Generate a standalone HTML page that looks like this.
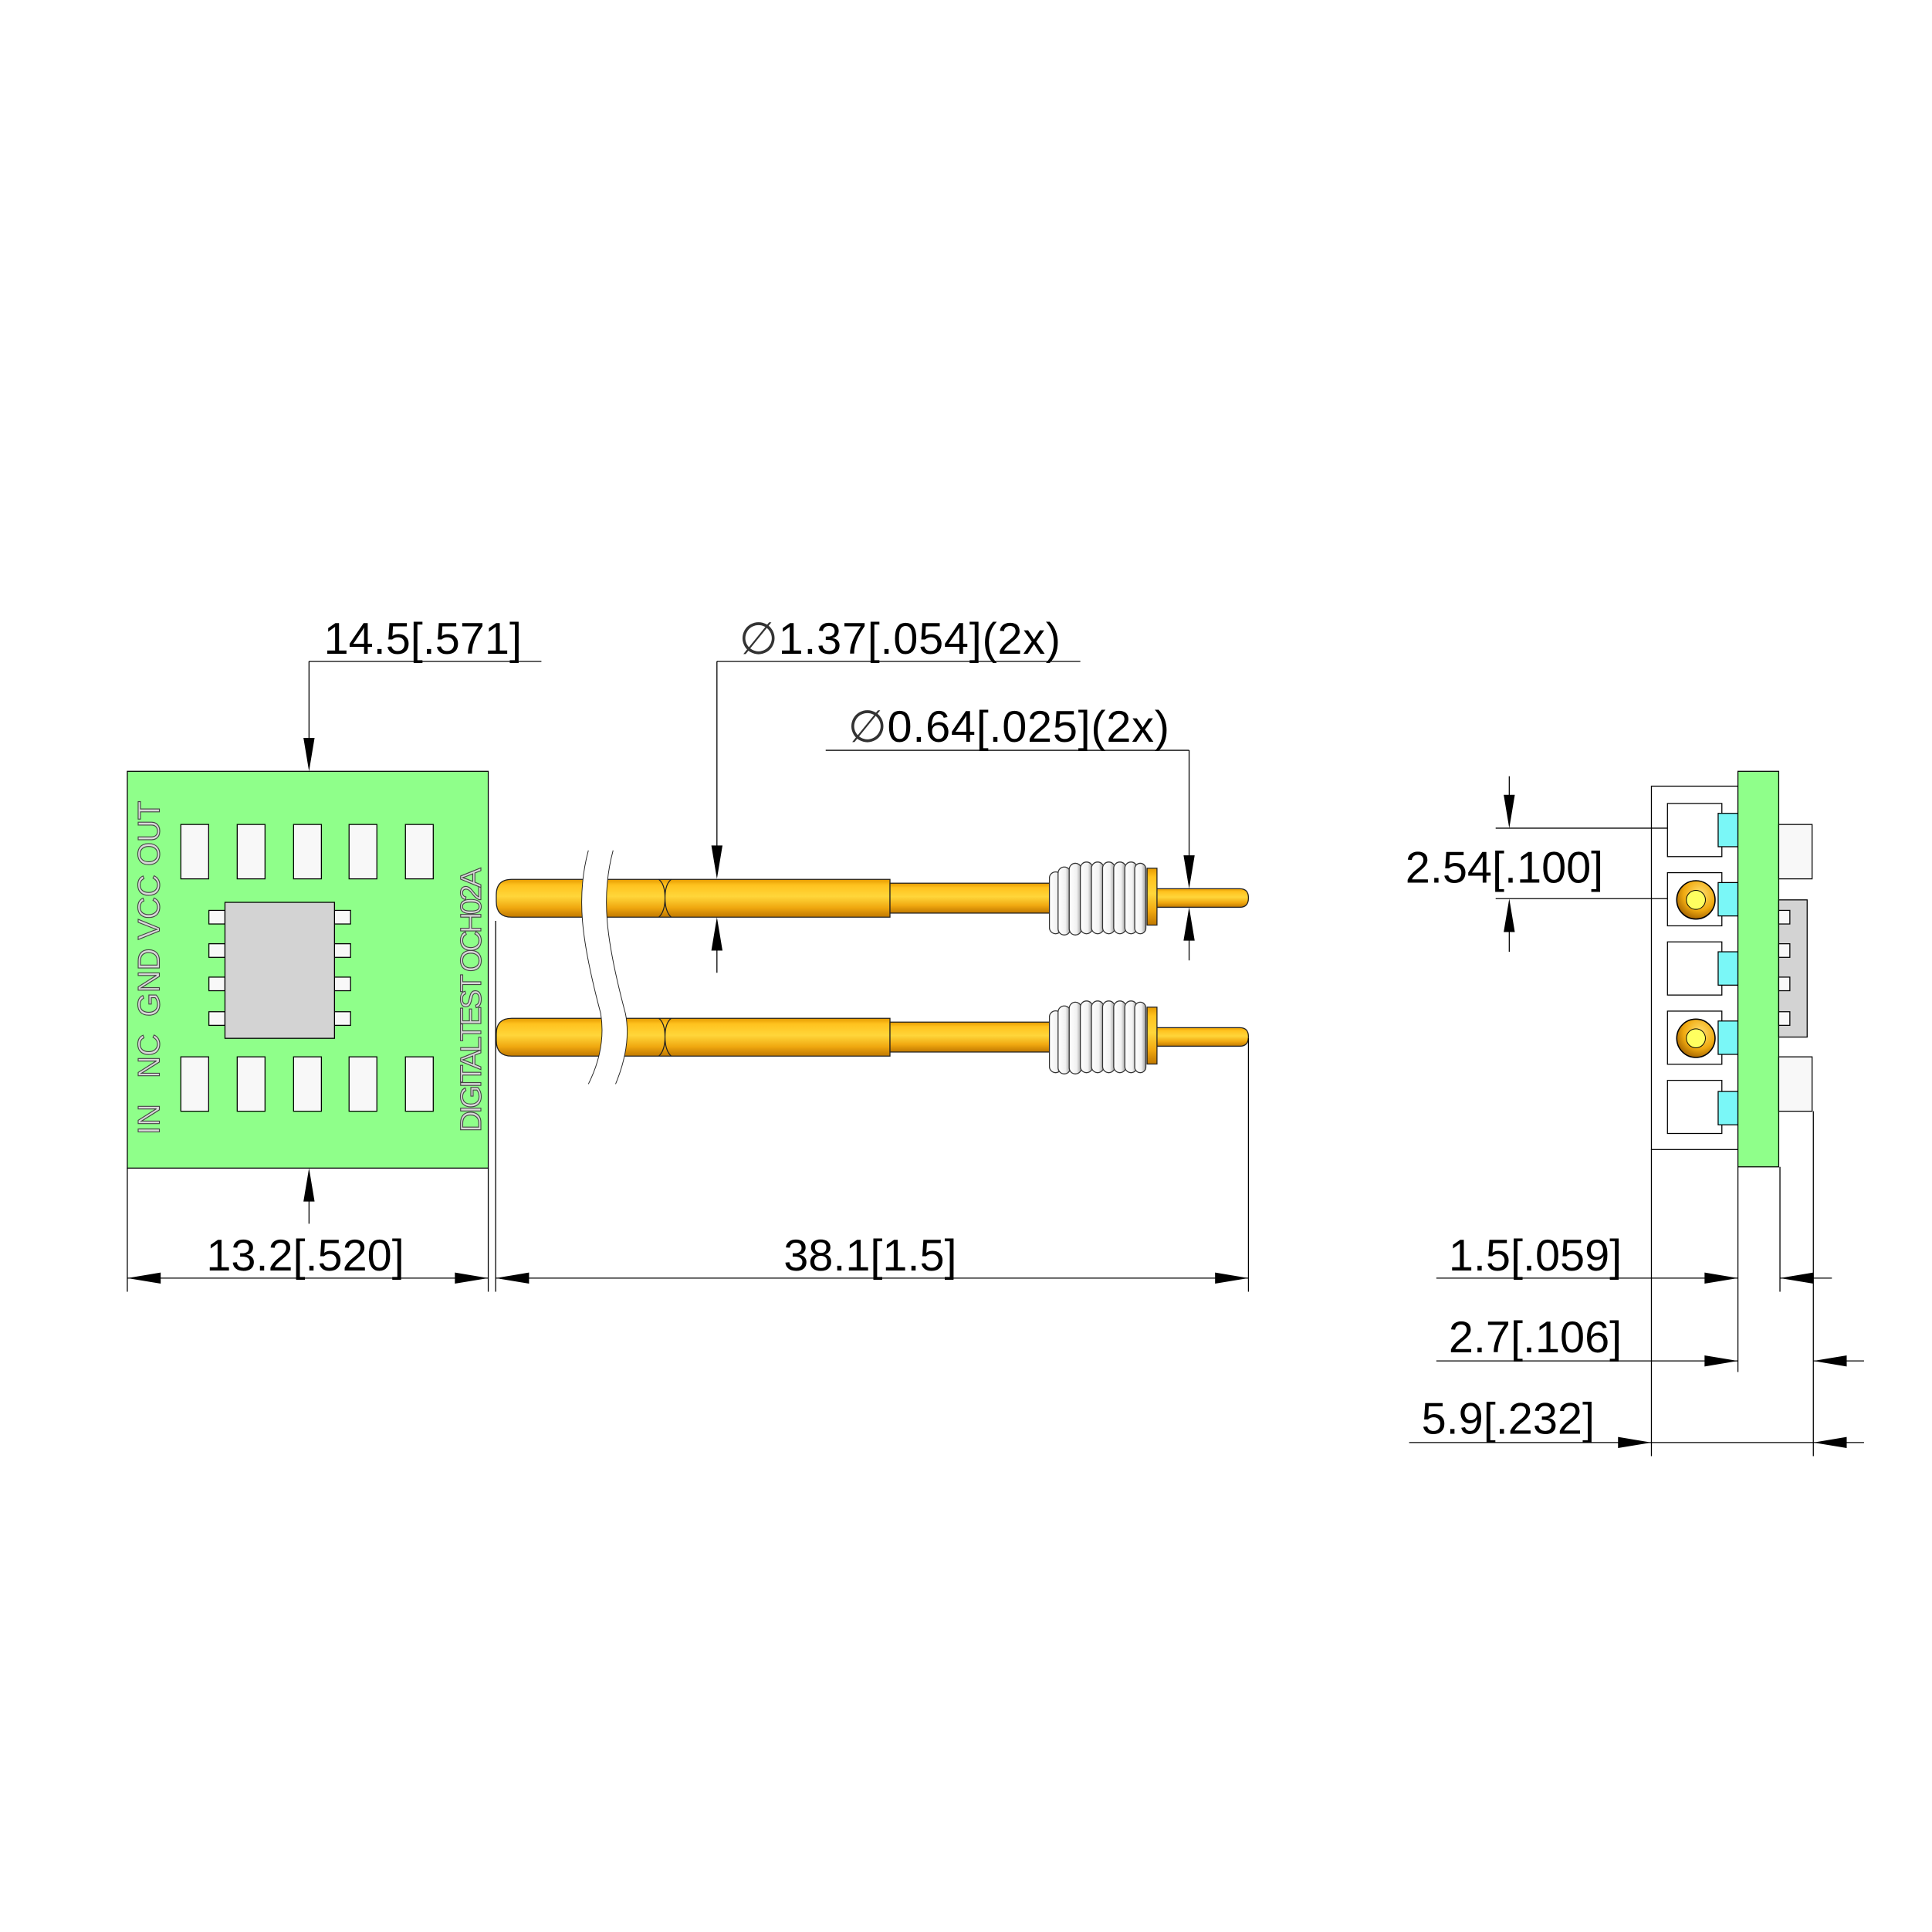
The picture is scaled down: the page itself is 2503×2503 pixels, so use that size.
<!DOCTYPE html>
<html><head><meta charset="utf-8"><style>
html,body{margin:0;padding:0;background:#fff;}
svg{display:block;}
text{font-family:"Liberation Sans","DejaVu Sans",sans-serif;}
</style></head><body>
<svg width="2503" height="2503" viewBox="0 0 1563 1563" xmlns="http://www.w3.org/2000/svg">
<defs>
<linearGradient id="gold" x1="0" y1="0" x2="0" y2="1">
<stop offset="0" stop-color="#e59a00"/><stop offset="0.15" stop-color="#ffc21e"/><stop offset="0.45" stop-color="#ffd63a"/><stop offset="0.75" stop-color="#f0a810"/><stop offset="1" stop-color="#c07800"/>
</linearGradient>
<linearGradient id="coil" x1="0" y1="0" x2="1" y2="0">
<stop offset="0" stop-color="#ffffff"/><stop offset="0.6" stop-color="#f2f2f2"/><stop offset="1" stop-color="#9a9a9a"/>
</linearGradient>
<radialGradient id="ball" cx="0.6" cy="0.35" r="0.7">
<stop offset="0" stop-color="#ffe070"/><stop offset="0.6" stop-color="#f0aa10"/><stop offset="1" stop-color="#a06000"/>
</radialGradient>
<g id="ah"><polygon points="0,0 -27,-4.5 -27,4.5" fill="#000"/></g>
<g id="probe">
  <path d="M414,0 H720 V30.6 H414 Q401.5,30.6 401.5,18 V12.6 Q401.5,0 414,0 Z" fill="url(#gold)" stroke="#222" stroke-width="0.8"/>
  <path d="M533,0 q5,4 5,15 q0,11 -5,15.6 M543,0 q-5,4 -5,15 q0,11 5,15.6" fill="none" stroke="#222" stroke-width="0.8"/>
  <rect x="720" y="3.1" width="134" height="24.2" fill="url(#gold)" stroke="#222" stroke-width="0.8"/>
  <path d="M934,7.6 H1003 Q1010,7.6 1010,15 Q1010,22.6 1003,22.6 H934 Z" fill="url(#gold)" stroke="#222" stroke-width="0.8"/>
  <rect x="928" y="-9" width="8" height="46" fill="url(#gold)" stroke="#222" stroke-width="0.8"/>
  <g stroke="#333" stroke-width="0.8" fill="url(#coil)">
    <rect x="849" y="-6" width="10" height="50" rx="5"/>
    <rect x="856" y="-10" width="10" height="55" rx="5"/>
    <rect x="865" y="-13" width="10" height="58" rx="5"/>
    <rect x="874" y="-14" width="10" height="58" rx="5"/>
    <rect x="883" y="-14" width="10" height="58" rx="5"/>
    <rect x="892" y="-14" width="10" height="58" rx="5"/>
    <rect x="901" y="-14" width="10" height="58" rx="5"/>
    <rect x="910" y="-14" width="10" height="58" rx="5"/>
    <rect x="918" y="-13" width="9" height="57" rx="4.5"/>
  </g>
</g>
</defs>

<!-- PCB top view -->
<rect x="103" y="624" width="292" height="321" fill="#8fff8a" stroke="#000" stroke-width="0.8"/>
<g fill="#f8f8f8" stroke="#000" stroke-width="0.8">
  <rect x="146.3" y="667" width="22.5" height="44"/><rect x="191.9" y="667" width="22.5" height="44"/><rect x="237.5" y="667" width="22.5" height="44"/><rect x="282.4" y="667" width="22.5" height="44"/><rect x="328" y="667" width="22.5" height="44"/>
  <rect x="146.3" y="855" width="22.5" height="44"/><rect x="191.9" y="855" width="22.5" height="44"/><rect x="237.5" y="855" width="22.5" height="44"/><rect x="282.4" y="855" width="22.5" height="44"/><rect x="328" y="855" width="22.5" height="44"/>
  <rect x="169" y="736.5" width="13" height="11"/><rect x="169" y="763.5" width="13" height="11"/><rect x="169" y="790.5" width="13" height="11"/><rect x="169" y="818.5" width="13" height="11"/>
  <rect x="270.6" y="736.5" width="13" height="11"/><rect x="270.6" y="763.5" width="13" height="11"/><rect x="270.6" y="790.5" width="13" height="11"/><rect x="270.6" y="818.5" width="13" height="11"/>
</g>
<rect x="182" y="730" width="88.6" height="110" fill="#d3d3d3" stroke="#000" stroke-width="0.8"/>
<text transform="translate(129,918) rotate(-90)" font-size="25" fill="#d8d8d8" stroke="#444" stroke-width="0.7" textLength="270" xml:space="preserve">IN   NC  GND VCC OUT</text>
<text transform="translate(389,916) rotate(-90)" font-size="24" fill="#d8d8d8" stroke="#444" stroke-width="0.7" textLength="214">DIGITALTEST OCH02A</text>

<!-- probes -->
<use href="#probe" transform="translate(0,711.4)"/>
<use href="#probe" transform="translate(0,823.8)"/>
<!-- break -->
<path d="M476,688 C466,725 470,760 486,820 C490,845 482,865 476,877 L498,877 C505,860 510,840 506,820 C490,760 486,725 496,688 Z" fill="#fff"/>
<path d="M476,688 C466,725 470,760 486,820 C490,845 482,865 476,877 M496,688 C486,725 490,760 506,820 C510,840 505,860 498,877" fill="none" stroke="#222" stroke-width="0.6"/>

<!-- side view -->
<rect x="1336" y="636" width="70" height="294" fill="#fff" stroke="#000" stroke-width="0.8"/>
<g fill="#fff" stroke="#000" stroke-width="0.8">
  <rect x="1349" y="650" width="44" height="43"/><rect x="1349" y="706" width="44" height="43"/><rect x="1349" y="762" width="44" height="43"/><rect x="1349" y="818" width="44" height="43"/><rect x="1349" y="874" width="44" height="43"/>
</g>
<g fill="url(#ball)" stroke="#000" stroke-width="1">
  <circle cx="1372" cy="728" r="15.5"/><circle cx="1372" cy="840" r="15.5"/>
</g>
<g fill="#ffff60" stroke="#000" stroke-width="0.6"><circle cx="1372" cy="728" r="7.7"/><circle cx="1372" cy="840" r="7.7"/></g>
<g fill="#7af7f7" stroke="#000" stroke-width="0.8">
  <rect x="1390" y="658" width="16" height="27"/><rect x="1390" y="714" width="16" height="27"/><rect x="1390" y="770" width="16" height="27"/><rect x="1390" y="826" width="16" height="27"/><rect x="1390" y="883" width="16" height="27"/>
</g>
<rect x="1406" y="624" width="33" height="320" fill="#8fff8a" stroke="#000" stroke-width="0.8"/>
<g fill="#f8f8f8" stroke="#000" stroke-width="0.8">
  <rect x="1439" y="667" width="27" height="44"/><rect x="1439" y="855" width="27" height="44"/>
</g>
<rect x="1439" y="728" width="23" height="111" fill="#d3d3d3" stroke="#000" stroke-width="0.8"/>
<g fill="#f8f8f8" stroke="#000" stroke-width="0.8">
  <rect x="1439" y="736.5" width="9" height="11"/><rect x="1439" y="763.5" width="9" height="11"/><rect x="1439" y="790.5" width="9" height="11"/><rect x="1439" y="818.5" width="9" height="11"/>
</g>

<!-- dimension lines -->
<g stroke="#000" stroke-width="0.8" fill="none">
  <path d="M250,535 H438 M250,535 V600"/>
  <path d="M250,990 V970"/>
  <path d="M580,535 H874 M580,535 V690 M580,765 V787"/>
  <path d="M668,607 H962 M962,607 V697 M962,756 V777"/>
  <path d="M103,945 V1045 M395,945 V1045 M401,745 V1045 M1010,840 V1045"/>
  <path d="M103,1034 H395 M401,1034 H1010"/>
  <path d="M1221,628 V645 M1221,752 V770 M1210,670 H1349 M1210,727 H1349"/>
  <path d="M1336,930 V1178 M1406,944 V1110 M1440,944 V1045 M1467,899 V1178"/>
  <path d="M1162,1034 H1406 M1440,1034 H1482"/>
  <path d="M1162,1101 H1406 M1467,1101 H1508"/>
  <path d="M1140,1167 H1508"/>
</g>
<use href="#ah" transform="translate(250,624) rotate(90)"/>
<use href="#ah" transform="translate(250,945) rotate(-90)"/>
<use href="#ah" transform="translate(580,711) rotate(90)"/>
<use href="#ah" transform="translate(580,742) rotate(-90)"/>
<use href="#ah" transform="translate(962,719) rotate(90)"/>
<use href="#ah" transform="translate(962,734) rotate(-90)"/>
<use href="#ah" transform="translate(1221,670) rotate(90)"/>
<use href="#ah" transform="translate(1221,727) rotate(-90)"/>
<use href="#ah" transform="translate(103,1034) rotate(180)"/>
<use href="#ah" transform="translate(395,1034)"/>
<use href="#ah" transform="translate(401,1034) rotate(180)"/>
<use href="#ah" transform="translate(1010,1034)"/>
<use href="#ah" transform="translate(1406,1034)"/>
<use href="#ah" transform="translate(1440,1034) rotate(180)"/>
<use href="#ah" transform="translate(1406,1101)"/>
<use href="#ah" transform="translate(1467,1101) rotate(180)"/>
<use href="#ah" transform="translate(1336,1167)"/>
<use href="#ah" transform="translate(1467,1167) rotate(180)"/>

<!-- labels -->
<g font-size="36" fill="#000">
  <text x="262" y="529">14.5[.571]</text>
  <text x="598" y="529" textLength="260"><tspan fill="#333">∅</tspan>1.37[.054](2x)</text>
  <text x="686" y="600" textLength="260"><tspan fill="#333">∅</tspan>0.64[.025](2x)</text>
  <text x="1137" y="714">2.54[.100]</text>
  <text x="247" y="1028" text-anchor="middle">13.2[.520]</text>
  <text x="704" y="1028" text-anchor="middle">38.1[1.5]</text>
  <text x="1172" y="1028">1.5[.059]</text>
  <text x="1172" y="1094">2.7[.106]</text>
  <text x="1150" y="1160">5.9[.232]</text>
</g>
</svg>
</body></html>
